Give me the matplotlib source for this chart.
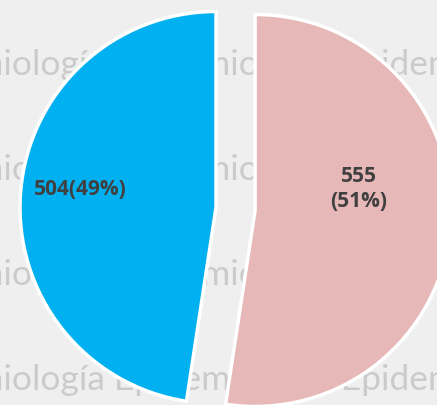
import matplotlib.pyplot as plt

# Datos
valores = [504, 555]
etiquetas = ['504(49%)', '555\n(51%)']
colores = ['#00B0F0', '#E6B8B7']
separacion = [0, 0.2]

plt.rcParams['font.family'] = ['Lato', 'DejaVu Sans']

fig = plt.figure(figsize=(4.37, 4.05), dpi=100)
fig.patch.set_facecolor('#EFEFEF')
ax = fig.add_axes([0, 0, 1, 1])
ax.set_facecolor('#EFEFEF')

# Marca de agua del fondo
marca = 'Epidemiología ' * 4
for y in [0.676, 0.140, -0.395, -0.931]:
    ax.text(-1.68, y, marca, fontsize=25.5, color='#CBCBCB', va='baseline',
            ha='left', zorder=0, clip_on=True)

wedges, _ = ax.pie(valores, colors=colores, explode=separacion, startangle=90,
                   wedgeprops=dict(edgecolor='white', linewidth=2.5))
for w in wedges:
    w.set_zorder(2)

# Etiquetas
posiciones = [(-0.694, 0.094), (0.727, 0.092)]
for (x, y), txt in zip(posiciones, etiquetas):
    ax.text(x, y, txt, ha='center', va='center', fontsize=15,
            family=['Open Sans', 'DejaVu Sans'], fontweight='bold',
            color='#404040', linespacing=1.25, zorder=3)

ax.set_xlim(-216 / 196, (437 - 216) / 196)
ax.set_ylim(-(405 - 207.5) / 196, 207.5 / 196)
ax.axis('off')

fig.savefig('out.png', dpi=100, facecolor=fig.get_facecolor())
